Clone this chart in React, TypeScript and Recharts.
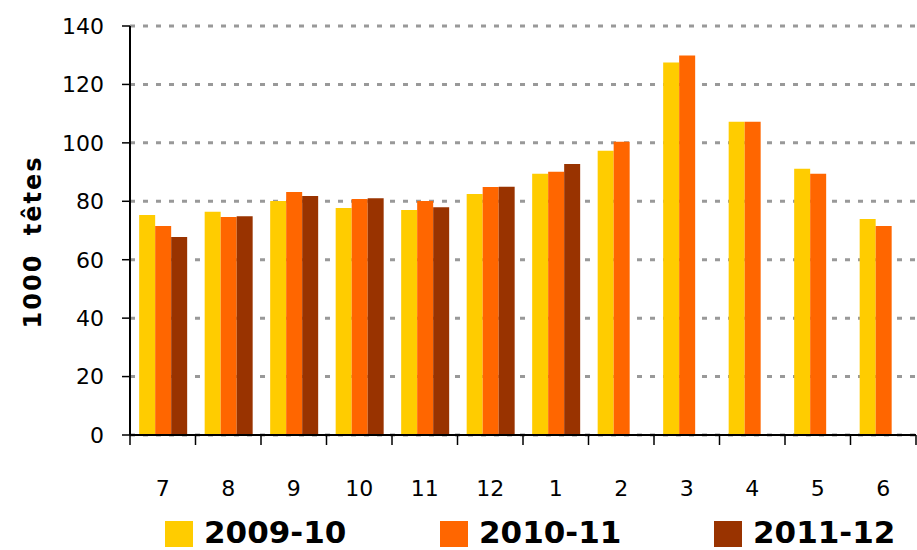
import React from 'react';
import { BarChart, Bar, XAxis, YAxis, CartesianGrid } from 'recharts';

// Months of the campaign (July -> June)
const months = ['7', '8', '9', '10', '11', '12', '1', '2', '3', '4', '5', '6'];

// Heads, in thousands
const s2009 = [75.3, 76.4, 80.1, 77.7, 77.0, 82.5, 89.4, 97.3, 127.5, 107.2, 91.1, 73.9];
const s2010 = [71.5, 74.6, 83.2, 80.8, 80.1, 84.9, 90.1, 100.4, 129.9, 107.2, 89.4, 71.5];
const s2011 = [67.8, 74.9, 81.8, 81.0, 78.0, 85.0, 92.8, null, null, null, null, null];

const yTicks = [0, 20, 40, 60, 80, 100, 120, 140];

const seriesNames = ['2009-10', '2010-11', '2011-12'];
const seriesColors = ['#FFCC00', '#FF6600', '#993300'];

const data = months.map((m, i) => ({
  month: m,
  a: s2009[i],
  b: s2010[i],
  c: s2011[i],
}));

const W = 917;
const H = 550;
const MARGIN = { top: 26, right: 1, left: 0, bottom: 0 };
const Y_AXIS_W = 130;
const BAND = (W - MARGIN.left - MARGIN.right - Y_AXIS_W) / months.length;
const FONT = '"DejaVu Sans", sans-serif';

// tick lines sit between the categories, labels at the centre
const MonthTick = (props: any) => {
  const { x, y, payload, index } = props;
  const last = index === months.length - 1;
  return (
    <g>
      <line x1={x - BAND / 2} x2={x - BAND / 2} y1={y} y2={y + 10} stroke="#000" strokeWidth={1.5} />
      {last && <line x1={x + BAND / 2} x2={x + BAND / 2} y1={y} y2={y + 10} stroke="#000" strokeWidth={1.5} />}
      <text x={x} y={y + 61} textAnchor="middle" fontSize={22} fontFamily={FONT} fill="#000">
        {payload.value}
      </text>
    </g>
  );
};

const YTitle = () => (
  <text
    x={33}
    y={242}
    transform="rotate(-90 33 242)"
    textAnchor="middle"
    dominantBaseline="central"
    fontSize={24}
    fontWeight="bold"
    fontFamily={FONT}
    letterSpacing={2}
    wordSpacing={8}
    fill="#000"
  >
    1000 têtes
  </text>
);

const legendLeft = [165, 440, 714];

export default function App() {
  return (
    <div style={{ position: 'absolute', left: 0, top: 0, width: W, height: H, background: '#fff' }}>
      <BarChart
        width={W}
        height={H}
        data={data}
        margin={MARGIN}
        barCategoryGap="14%"
        barGap={0}
      >
        <CartesianGrid vertical={false} stroke="#999999" strokeWidth={3} strokeDasharray="5 8" />
        <XAxis
          dataKey="month"
          height={115}
          interval={0}
          tickLine={false}
          tickSize={0}
          tickMargin={0}
          axisLine={{ stroke: '#000', strokeWidth: 2 }}
          tick={<MonthTick />}
        />
        <YAxis
          width={Y_AXIS_W}
          domain={[0, 140]}
          ticks={yTicks}
          interval={0}
          tickSize={8}
          tickMargin={18}
          axisLine={{ stroke: '#000', strokeWidth: 2 }}
          tickLine={{ stroke: '#000', strokeWidth: 1.5 }}
          tick={{ fontSize: 22, fontFamily: FONT, fill: '#000' }}
          label={{ content: () => <YTitle /> }}
        />
        <Bar dataKey="a" fill={seriesColors[0]} isAnimationActive={false} />
        <Bar dataKey="b" fill={seriesColors[1]} isAnimationActive={false} />
        <Bar dataKey="c" fill={seriesColors[2]} isAnimationActive={false} />
      </BarChart>
      {seriesNames.map((name, i) => (
        <div
          key={name}
          style={{
            position: 'absolute',
            left: legendLeft[i],
            top: 513,
            height: 34,
            display: 'flex',
            alignItems: 'center',
          }}
        >
          <div style={{ width: 28, height: 26, marginTop: 8, background: seriesColors[i] }} />
          <span
            style={{
              marginLeft: 11,
              marginTop: 4,
              fontFamily: FONT,
              fontWeight: 'bold',
              fontSize: 31,
              lineHeight: '34px',
              color: '#000',
            }}
          >
            {name}
          </span>
        </div>
      ))}
    </div>
  );
}
